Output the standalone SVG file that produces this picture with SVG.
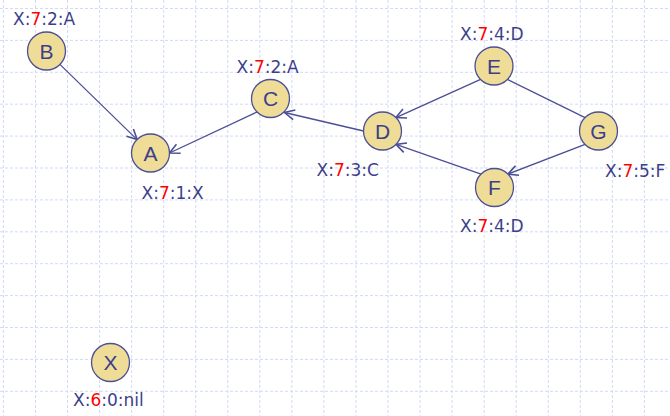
<svg xmlns="http://www.w3.org/2000/svg" width="670" height="416" viewBox="0 0 670 416">
<style>
.grid{stroke:#d2daf5;stroke-width:1;stroke-dasharray:3,2;fill:none}
.node circle{fill:#efdc96;stroke:#4b4f95;stroke-width:1.3}
.node text{font-family:"Liberation Sans",sans-serif;font-size:21px;fill:#3c3f8c;text-anchor:middle}
.lbl{font-family:"DejaVu Sans",sans-serif;font-size:17px;fill:#3c3f8c}
.lbl .r{fill:#ff0000}
.edge{stroke:#4b4f95;stroke-width:1.3;fill:none}
</style>
<defs>
<marker id="arr" markerUnits="userSpaceOnUse" markerWidth="14" markerHeight="14" refX="11" refY="6" orient="auto">
<path d="M1,1 L11,6 L1,11" fill="none" stroke="#4b4f95" stroke-width="1.6"/>
</marker>
</defs>
<rect width="670" height="416" fill="#ffffff"/>
<path class="grid" d="M3.4,0V416M35.5,0V416M67.5,0V416M99.6,0V416M131.6,0V416M163.7,0V416M195.7,0V416M227.8,0V416M259.8,0V416M291.9,0V416M323.9,0V416M356,0V416M388,0V416M420.1,0V416M452.1,0V416M484.2,0V416M516.2,0V416M548.3,0V416M580.3,0V416M612.4,0V416M644.4,0V416M0,8.5H670M0,40.4H670M0,72.3H670M0,104.2H670M0,136.1H670M0,168H670M0,199.9H670M0,231.8H670M0,263.7H670M0,295.6H670M0,327.5H670M0,359.4H670M0,391.3H670"/>
<g id="connectors">
<line class="edge" x1="59.9" y1="64.4" x2="137.1" y2="139.6" marker-end="url(#arr)"/>
<line class="edge" x1="257.1" y1="111.9" x2="169.5" y2="153" marker-end="url(#arr)"/>
<line class="edge" x1="363.5" y1="131" x2="284.5" y2="112.5" marker-end="url(#arr)"/>
<line class="edge" x1="480.6" y1="79.4" x2="395.9" y2="117.6" marker-end="url(#arr)"/>
<line class="edge" x1="481.1" y1="174.1" x2="395.9" y2="144.4" marker-end="url(#arr)"/>
<line class="edge" x1="507.4" y1="79.4" x2="585.1" y2="117.6"/>
<line class="edge" x1="585.1" y1="144.4" x2="507.9" y2="174.1" marker-end="url(#arr)"/>
</g>
<g id="A" class="node"><circle cx="150.5" cy="153" r="19"/><text x="150.5" y="160.6">A</text></g>
<g id="B" class="node"><circle cx="46.5" cy="51" r="19"/><text x="46.5" y="58.6">B</text></g>
<g id="C" class="node"><circle cx="270.5" cy="98.5" r="19"/><text x="270.5" y="106.1">C</text></g>
<g id="D" class="node"><circle cx="382.5" cy="131" r="19"/><text x="382.5" y="138.6">D</text></g>
<g id="E" class="node"><circle cx="494" cy="66" r="19"/><text x="494" y="73.6">E</text></g>
<g id="F" class="node"><circle cx="494.5" cy="187.5" r="19"/><text x="494.5" y="195.1">F</text></g>
<g id="G" class="node"><circle cx="598.5" cy="131" r="19"/><text x="598.5" y="138.6">G</text></g>
<g id="X" class="node"><circle cx="110.5" cy="362.5" r="19"/><text x="110.5" y="370.1">X</text></g>
<g id="labels">
<text class="lbl" x="13" y="25">X:<tspan class="r">7</tspan>:2:A</text>
<text class="lbl" x="141.5" y="199">X:<tspan class="r">7</tspan>:1:X</text>
<text class="lbl" x="236.5" y="72.5">X:<tspan class="r">7</tspan>:2:A</text>
<text class="lbl" x="316.5" y="176">X:<tspan class="r">7</tspan>:3:C</text>
<text class="lbl" x="460" y="40">X:<tspan class="r">7</tspan>:4:D</text>
<text class="lbl" x="605" y="176.5">X:<tspan class="r">7</tspan>:5:F</text>
<text class="lbl" x="460" y="231.5">X:<tspan class="r">7</tspan>:4:D</text>
<text class="lbl" x="73" y="405.5">X:<tspan class="r">6</tspan>:0:nil</text>
</g>
</svg>
